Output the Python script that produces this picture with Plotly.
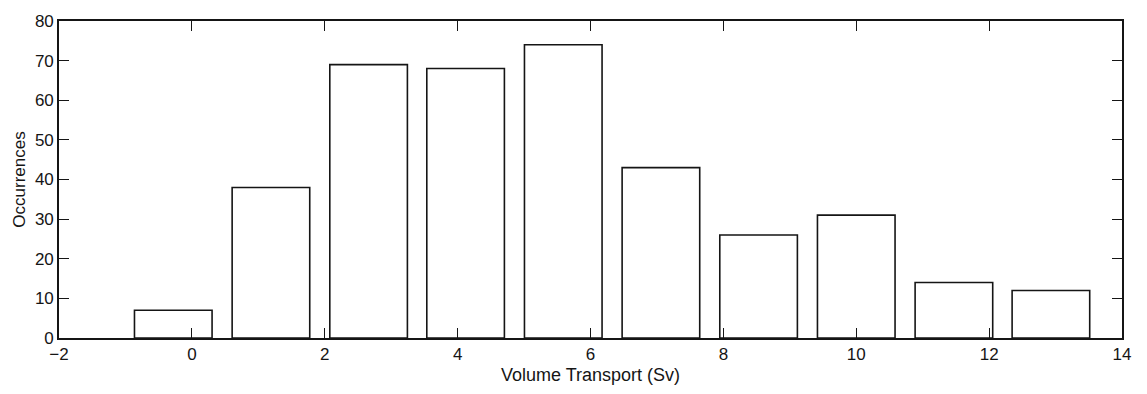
import plotly.graph_objects as go

# Histogram of volume transport: bin centres (Sv) and counts per bin
bin_centers = [-0.28, 1.19, 2.66, 4.12, 5.59, 7.06, 8.53, 10.00, 11.47, 12.93]
occurrences = [7, 38, 69, 68, 74, 43, 26, 31, 14, 12]

x_ticks = [-2, 0, 2, 4, 6, 8, 10, 12, 14]
y_ticks = [0, 10, 20, 30, 40, 50, 60, 70, 80]

ink = "#151515"
font_family = "Liberation Sans, Arial, Helvetica, sans-serif"

fig = go.Figure(
    go.Bar(
        x=bin_centers,
        y=occurrences,
        marker=dict(color="white", line=dict(color=ink, width=1.6)),
        showlegend=False,
    )
)

axis_common = dict(
    showgrid=False,
    zeroline=False,
    showline=True,
    linecolor=ink,
    linewidth=1.6,
    mirror="ticks",
    ticks="inside",
    ticklen=10,
    tickwidth=1.3,
    tickcolor=ink,
    tickfont=dict(family=font_family, size=17, color=ink),
)

fig.update_xaxes(
    range=[-2, 14],
    tickvals=x_ticks,
    ticktext=["\u22122" if v < 0 else str(v) for v in x_ticks],
    title=dict(text="Volume Transport (Sv)",
               font=dict(family=font_family, size=18, color=ink),
               standoff=5),
    **axis_common,
)
fig.update_yaxes(
    range=[0, 80],
    tickvals=y_ticks,
    title=dict(text="Occurrences",
               font=dict(family=font_family, size=17, color=ink),
               standoff=5),
    **axis_common,
)

fig.update_layout(
    width=1147,
    height=394,
    margin=dict(l=59, r=25, t=14, b=55),
    paper_bgcolor="white",
    plot_bgcolor="white",
    bargap=0.2,
    font=dict(family=font_family, color=ink),
)

fig.write_html("out.html")
